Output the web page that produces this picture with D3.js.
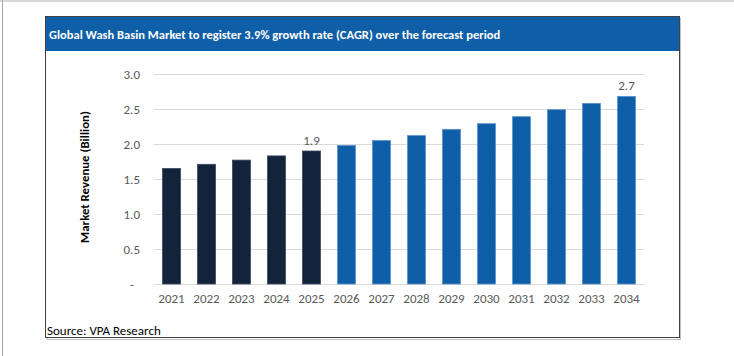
<!DOCTYPE html>
<html><head><meta charset="utf-8">
<script src="https://cdn.jsdelivr.net/npm/d3@7"></script>
<style>
html,body{margin:0;padding:0;background:#fff;}
svg{display:block;}
</style></head>
<body>
<svg id="c" width="734" height="356"></svg>
<script>
const years = ["2021","2022","2023","2024","2025","2026","2027","2028","2029","2030","2031","2032","2033","2034"];
const revenue = [1.65,1.71,1.77,1.83,1.9,1.98,2.05,2.12,2.21,2.29,2.39,2.49,2.58,2.68];
const historicYears = ["2021","2022","2023","2024","2025"];
const yTicks = [0,0.5,1.0,1.5,2.0,2.5,3.0];
const labelledYears = {"2025":"1.9","2034":"2.7"};
const titleText = "Global Wash Basin Market to register 3.9% growth rate (CAGR) over the forecast period";
const yTitle = "Market Revenue (Billion)";
const sourceText = "Source: VPA Research";

const svg = d3.select("#c");
const font = "Carlito, 'Open Sans', 'Noto Sans', sans-serif";

// page frame
svg.append("rect").attr("x",0).attr("y",0).attr("width",734).attr("height",2).attr("fill","#d9d9d9");
svg.append("rect").attr("x",2).attr("y",0).attr("width",1).attr("height",356).attr("fill","#a6a6a6");

// box shadow + box
svg.append("rect").attr("x",47.5).attr("y",18.5).attr("width",633).attr("height",321).attr("fill","none").attr("stroke","#bfbfbf").attr("stroke-width",1);
svg.append("rect").attr("x",45.5).attr("y",16.5).attr("width",634).attr("height",321).attr("fill","#fff").attr("stroke","#404040").attr("stroke-width",1);
svg.append("rect").attr("x",46).attr("y",17).attr("width",633).attr("height",34).attr("fill","#0F5EA8");
svg.append("text").attr("x",49).attr("y",34).attr("dominant-baseline","central")
  .attr("fill","#fff").attr("font-family",font).attr("font-weight","bold").attr("font-size",12.5)
  .text(titleText);

const x = d3.scaleBand().domain(years).range([154,644]).paddingInner(0.486).paddingOuter(0.243);
const y = d3.scaleLinear().domain([0,3]).range([284,74]);

// gridlines
svg.append("g").selectAll("line").data(yTicks).join("line")
  .attr("x1",154).attr("x2",644).attr("y1",d=>y(d)+0.5).attr("y2",d=>y(d)+0.5)
  .attr("stroke","#d9d9d9").attr("stroke-width",1);

// y axis labels
const yAxis = d3.axisLeft(y).tickValues(yTicks).tickSize(0).tickPadding(0)
  .tickFormat(d=> d===0 ? "-" : d3.format(".1f")(d));
const gy = svg.append("g").attr("transform","translate(140,0)").call(yAxis);
gy.select(".domain").remove();
gy.selectAll("text").attr("font-family",font).attr("font-size",13).attr("fill","#595959");
gy.selectAll(".tick").filter(d=>d===0).select("text").attr("dx",-6);

// bars
svg.append("g").selectAll("rect").data(years).join("rect")
  .attr("x",d=>x(d)).attr("width",x.bandwidth())
  .attr("y",(d,i)=>y(revenue[i])).attr("height",(d,i)=>y(0)-y(revenue[i]))
  .attr("fill",d=>historicYears.includes(d)?"#13233C":"#0F5EA8")
  .attr("stroke",d=>historicYears.includes(d)?"#3a4a62":"#5b93cc").attr("stroke-width",0.8);

// x axis
const xAxis = d3.axisBottom(x).tickSize(0).tickPadding(0);
const gx = svg.append("g").attr("transform","translate(0,294)").call(xAxis);
gx.select(".domain").remove();
gx.selectAll("text").attr("font-family",font).attr("font-size",13).attr("fill","#595959").attr("dy","0.71em");

// data labels
svg.append("g").selectAll("text").data(years.filter(d=>labelledYears[d])).join("text")
  .attr("x",d=>x(d)+x.bandwidth()/2)
  .attr("y",d=>y(revenue[years.indexOf(d)])-6)
  .attr("text-anchor","middle").attr("font-family",font).attr("font-size",13).attr("fill","#595959")
  .text(d=>labelledYears[d]);

// y title
svg.append("text").attr("transform","translate(89,177) rotate(-90)").attr("text-anchor","middle")
  .attr("font-family",font).attr("font-weight","bold").attr("font-size",12.8).attr("fill","#000")
  .text(yTitle);

// source
svg.append("text").attr("x",47).attr("y",335).attr("font-family",font).attr("font-size",13).attr("fill","#000")
  .text(sourceText);
</script>
</body></html>
